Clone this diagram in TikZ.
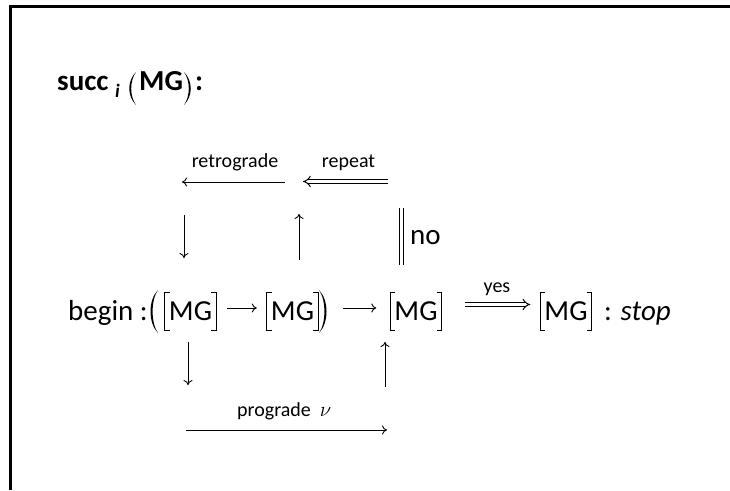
\documentclass[tikz,border=0pt]{standalone}
\usepackage{fontspec}
\setmainfont{Carlito}
\usetikzlibrary{arrows.meta,calc}
\begin{document}
\begin{tikzpicture}[x=1pt,y=-1pt,
  txt/.style={inner sep=0pt,font=\fontsize{29}{34}\selectfont},
  ttl/.style={inner sep=0pt,font=\fontsize{29}{34}\selectfont\bfseries},
  ttlsub/.style={inner sep=0pt,font=\fontsize{19}{22}\selectfont\bfseries\itshape},
  lbl/.style={inner sep=0pt,font=\fontsize{20}{24}\selectfont},
  mgbox/.style={inner sep=0pt,minimum width=51pt,minimum height=37pt,font=\fontsize{29}{34}\selectfont},
  brk/.style={line width=1.3pt},
  arr/.style={line width=0.9pt,-{To[length=5pt,width=9pt]}},
  darr/.style={double,line width=1pt,double distance=3pt,-{Implies}},
  bars/.style={double,line width=1pt,double distance=3pt},
  frame/.style={line width=2.2pt},
]
\useasboundingbox (0,0) rectangle (730,490);
% frame
\draw[frame] (10.5,490) -- (10.5,6.5) -- (730,6.5);

% title
\node[ttl,anchor=base west] (succ) at (57,90) {succ};
\node[ttlsub,anchor=base west] (sub) at (115,97) {i};
\node[ttl,anchor=base west] (tmg) at (139,90) {MG};
\node[ttl,anchor=base west] (tcol) at (195,90) {:};
\fill (136,72) .. controls (127,81) and (127,96) .. (136,105)
      .. controls (129.6,96) and (129.6,81) .. (136,72);
\fill (184,72) .. controls (193,81) and (193,96) .. (184,105)
      .. controls (190.4,96) and (190.4,81) .. (184,72);

% top row
\coordinate (r1) at (285,182);
\coordinate (r0) at (182,182);
\coordinate (p1) at (388,181.5);
\coordinate (p0) at (303,181.5);
\draw[arr] (r1) -- (r0);
\draw[darr] (p1) -- (p0);
\node[lbl,anchor=base] (retro) at (235,167) {retrograde};
\node[lbl,anchor=base] (rep) at (348.5,167) {repeat};

% second row
\coordinate (d0) at (184,215);
\coordinate (d1) at (184,258);
\coordinate (u0) at (299,260);
\coordinate (u1) at (299,214);
\coordinate (n0) at (401.5,208);
\coordinate (n1) at (401.5,265);
\draw[arr] (d0) -- (d1);
\draw[arr] (u0) -- (u1);
\draw[bars] (n0) -- (n1);
\node[txt,anchor=base west] (no) at (410,244) {no};

% main row
\node[txt,anchor=base west] (begin) at (68,320) {begin :};
\node[mgbox] (m1) at (190.5,311.5) {MG};
\node[mgbox] (m2) at (292.5,311.5) {MG};
\node[mgbox] (m3) at (416,311.5) {MG};
\node[mgbox] (m4) at (566,311.5) {MG};
\foreach \m in {m1,m2,m3,m4}{
  \draw[brk] ($(\m.north west)+(5,0)$) -- (\m.north west) -- (\m.south west) -- ++(5,0);
  \draw[brk] ($(\m.north east)+(-5,0)$) -- (\m.north east) -- (\m.south east) -- ++(-5,0);
}
\fill (158,290) .. controls (148,300) and (148,323) .. (158,333)
      .. controls (150.8,323) and (150.8,300) .. (158,290);
\fill (319,290) .. controls (329,300) and (329,323) .. (319,333)
      .. controls (326.2,323) and (326.2,300) .. (319,290);
\draw[arr] ([shift={(11,-3.5)}]m1.east) -- ([shift={(-10,-3.5)}]m2.west);
\draw[arr] ([shift={(25,-3.5)}]m2.east) -- ([shift={(-14,-3.5)}]m3.west);
\draw[darr] ([shift={(23,-7)}]m3.east) -- ([shift={(-10,-7)}]m4.west);
\node[lbl,anchor=base] (yes) at (497,292) {yes};
\node[txt,anchor=base west] (stop) at (604,320) {: \textit{stop}};

% bottom row
\coordinate (e0) at (188,342);
\coordinate (e1) at (188,385);
\coordinate (f0) at (385,387);
\coordinate (f1) at (385,342);
\coordinate (g0) at (186,430);
\coordinate (g1) at (387,430);
\draw[arr] (e0) -- (e1);
\draw[arr] (f0) -- (f1);
\draw[arr] (g0) -- (g1);
\node[lbl,anchor=base west] (pro) at (237,416) {prograde\hspace{9pt}$\nu$};
\end{tikzpicture}
\end{document}
